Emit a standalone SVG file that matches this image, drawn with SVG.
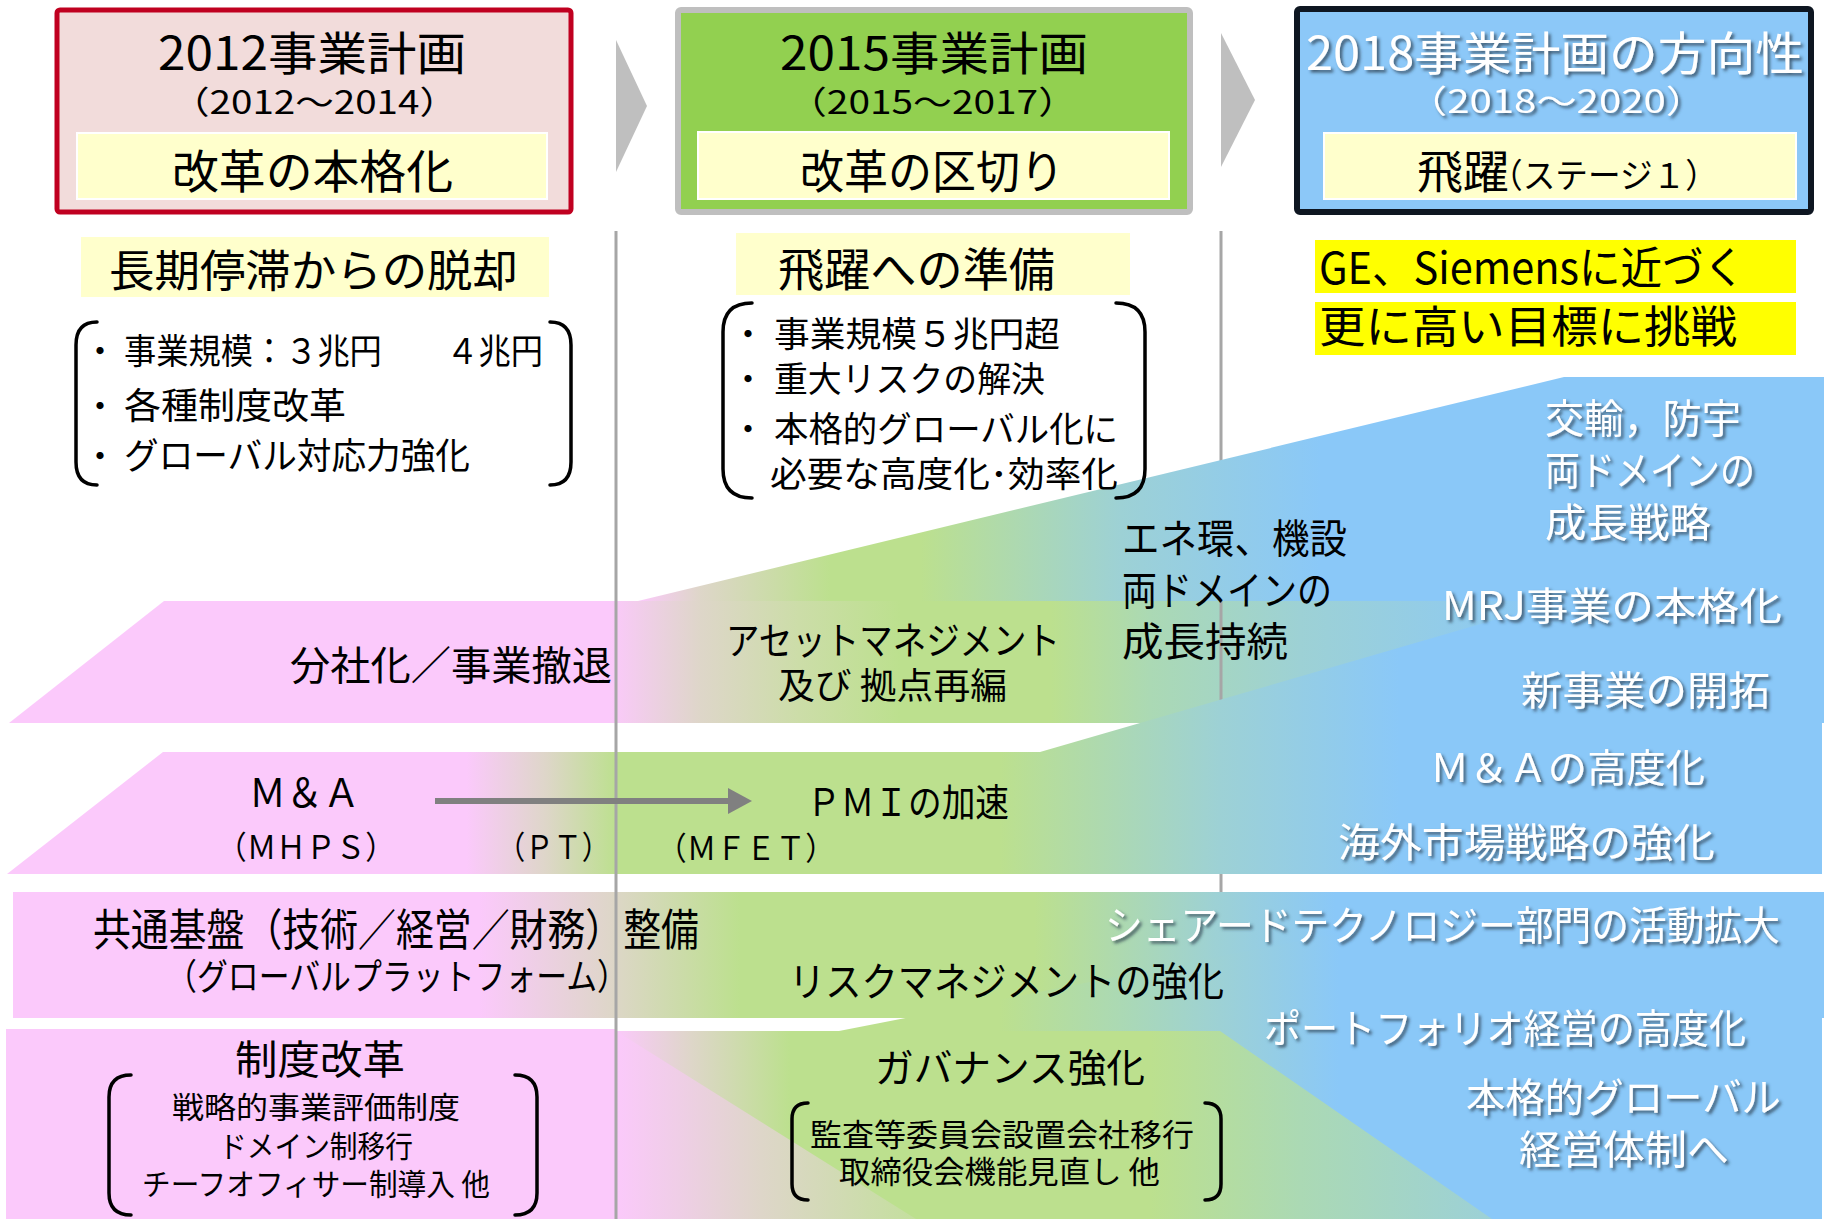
<svg xmlns="http://www.w3.org/2000/svg" width="1837" height="1219" viewBox="0 0 1837 1219">
<defs>
<style>
text { font-family: "Noto Sans CJK JP", "Noto Sans", sans-serif; fill: #000; }
.w { fill: #fff; filter: url(#sh); }
.br { fill: none; stroke: #000; stroke-width: 3.5; stroke-linecap: round; stroke-linejoin: round; }
.div { stroke: #A6A6A6; stroke-width: 3; }
.pale { fill: #FFFFCC; }
.hl { fill: #FFFF00; }
</style>
<filter id="sh" x="-10%" y="-30%" width="130%" height="170%">
<feDropShadow dx="2.5" dy="2.5" stdDeviation="1.5" flood-color="#2a3a4a" flood-opacity="0.75"/>
</filter>
<marker id="ah" markerUnits="userSpaceOnUse" markerWidth="26" markerHeight="28" refX="7" refY="13" orient="auto">
<path d="M0,0 L24,13 L0,26 z" fill="#808080"/>
</marker>
<linearGradient id="gAl" gradientUnits="userSpaceOnUse" x1="0" y1="0" x2="1837" y2="0">
<stop offset="0" stop-color="#FBC9FB"/><stop offset="0.332" stop-color="#FBC9FB"/><stop offset="0.381" stop-color="#DED6C9"/><stop offset="0.435" stop-color="#CCDDA8"/><stop offset="0.49" stop-color="#BCE08E"/><stop offset="0.572" stop-color="#BCE08E"/><stop offset="0.626" stop-color="#ABD9B4"/><stop offset="0.708" stop-color="#9DD1D5"/><stop offset="0.844" stop-color="#8AC8F8"/><stop offset="1" stop-color="#8AC8F8"/>
</linearGradient>
<linearGradient id="gAu" gradientUnits="userSpaceOnUse" x1="0" y1="0" x2="1837" y2="0">
<stop offset="0" stop-color="#FBC9FB"/><stop offset="0.347" stop-color="#FBC9FB"/><stop offset="0.381" stop-color="#DED6C9"/><stop offset="0.452" stop-color="#BCE08E"/><stop offset="0.501" stop-color="#BCE08E"/><stop offset="0.61" stop-color="#9DD1D5"/><stop offset="0.719" stop-color="#8AC8F8"/><stop offset="1" stop-color="#8AC8F8"/>
</linearGradient>
<linearGradient id="gB" gradientUnits="userSpaceOnUse" x1="0" y1="0" x2="1837" y2="0">
<stop offset="0" stop-color="#FBC9FB"/><stop offset="0.254" stop-color="#FBC9FB"/><stop offset="0.297" stop-color="#DED6C9"/><stop offset="0.336" stop-color="#BCE08E"/><stop offset="0.544" stop-color="#BCE08E"/><stop offset="0.664" stop-color="#9DD1D5"/><stop offset="0.762" stop-color="#8AC8F8"/><stop offset="1" stop-color="#8AC8F8"/>
</linearGradient>
<linearGradient id="gC" gradientUnits="userSpaceOnUse" x1="0" y1="0" x2="1837" y2="0">
<stop offset="0" stop-color="#FBC9FB"/><stop offset="0.261" stop-color="#FBC9FB"/><stop offset="0.332" stop-color="#DED6C9"/><stop offset="0.403" stop-color="#BCE08E"/><stop offset="0.563" stop-color="#BCE08E"/><stop offset="0.662" stop-color="#9DD1D5"/><stop offset="0.727" stop-color="#8AC8F8"/><stop offset="1" stop-color="#8AC8F8"/>
</linearGradient>
<linearGradient id="gD" gradientUnits="userSpaceOnUse" x1="0" y1="0" x2="1837" y2="0">
<stop offset="0.335" stop-color="#FBC9FB"/><stop offset="0.376" stop-color="#DED6C9"/><stop offset="0.43" stop-color="#BCE08E"/><stop offset="0.626" stop-color="#BCE08E"/><stop offset="0.708" stop-color="#ABD9B4"/><stop offset="0.806" stop-color="#9DD1D5"/><stop offset="0.992" stop-color="#8AC8F8"/>
</linearGradient>
<linearGradient id="gDp" gradientUnits="userSpaceOnUse" x1="0" y1="0" x2="1837" y2="0">
<stop offset="0.335" stop-color="#FBC9FB"/><stop offset="0.37" stop-color="#EFCEE6"/><stop offset="0.414" stop-color="#DED6C9"/><stop offset="0.499" stop-color="#C4DF9E"/>
</linearGradient>
<linearGradient id="gX" gradientUnits="userSpaceOnUse" x1="0" y1="0" x2="1837" y2="0">
<stop offset="0.457" stop-color="#BCE08E"/><stop offset="0.544" stop-color="#BCE08E"/><stop offset="0.61" stop-color="#ABD9B4"/><stop offset="0.664" stop-color="#9DD1D5"/><stop offset="0.729" stop-color="#8AC8F8"/><stop offset="1" stop-color="#8AC8F8"/>
</linearGradient>
</defs>
<rect width="1837" height="1219" fill="#fff"/>

<g id="bands">
<polygon id="band-a-lower" points="9,723 164,601 1824,601 1824,723" fill="url(#gAl)"/>
<line class="div" x1="1221" y1="231" x2="1221" y2="893"/>
<polygon id="band-a-upper" points="638,601 1564,377 1824,377 1824,601" fill="url(#gAu)"/>
<polygon id="band-b" points="7,874 163,752 1040,752 1560,601 1822,601 1822,874" fill="url(#gB)"/>
<rect id="band-c" x="13" y="892" width="1811" height="126" fill="url(#gC)"/>
<rect id="band-d-left" x="6" y="1029" width="610" height="190" fill="#FBC9FB"/>
<rect id="band-d" x="616" y="1031" width="1206" height="188" fill="url(#gD)"/>
<polygon points="616,1031 916,1219 616,1219" fill="url(#gDp)"/>
<polygon id="band-x" points="839,1031 1545,893 1822,893 1822,1219 1492,1219 1220,1031" fill="url(#gX)"/>
<line class="div" x1="616" y1="231" x2="616" y2="1219"/>
</g>

<g id="plan2012">
<rect x="57" y="10" width="514" height="202" rx="3" fill="#F2DCDB" stroke="#C00020" stroke-width="5"/>
<rect x="77" y="133" width="470" height="66" class="pale" stroke="#fff" stroke-width="2"/>
<text x="158" y="70" font-size="46" textLength="308" lengthAdjust="spacingAndGlyphs">2012事業計画</text>
<text x="171" y="114" font-size="32" textLength="287" lengthAdjust="spacingAndGlyphs">（2012～2014）</text>
<text x="172" y="188" font-size="46" textLength="281" lengthAdjust="spacingAndGlyphs">改革の本格化</text>
</g>

<g id="plan2015">
<rect x="678" y="10" width="512" height="202" rx="3" fill="#92D050" stroke="#BFBFBF" stroke-width="6"/>
<rect x="698" y="132" width="471" height="67" class="pale" stroke="#fff" stroke-width="2"/>
<text x="780" y="70" font-size="46" textLength="308" lengthAdjust="spacingAndGlyphs">2015事業計画</text>
<text x="788" y="114" font-size="32" textLength="289" lengthAdjust="spacingAndGlyphs">（2015～2017）</text>
<text x="800" y="188" font-size="46" textLength="264" lengthAdjust="spacingAndGlyphs">改革の区切り</text>
</g>

<g id="plan2018">
<rect x="1297" y="9" width="514" height="203" rx="3" fill="#8CC8F8" stroke="#0E1621" stroke-width="6"/>
<rect x="1324" y="133" width="472" height="66" class="pale" stroke="#fff" stroke-width="2"/>
<text class="w" x="1306" y="70" font-size="46" textLength="498" lengthAdjust="spacingAndGlyphs">2018事業計画の方向性</text>
<text class="w" x="1407" y="113" font-size="32" textLength="299" lengthAdjust="spacingAndGlyphs">（2018～2020）</text>
<text x="1417" y="188" font-size="46" textLength="92" lengthAdjust="spacingAndGlyphs">飛躍</text>
<text x="1490" y="188" font-size="34" textLength="228" lengthAdjust="spacingAndGlyphs">（ステージ１）</text>
</g>

<g id="goal2012">
<rect x="81" y="237" width="468" height="60" class="pale"/>
<text x="109" y="287" font-size="44" textLength="409" lengthAdjust="spacingAndGlyphs">長期停滞からの脱却</text>
<path class="br" d="M97,322 Q76,322 76,345 L76,462 Q76,485 97,485"/>
<path class="br" d="M550,322 Q571,322 571,345 L571,462 Q571,485 550,485"/>
<text x="83" y="364" font-size="34">・</text>
<text x="124" y="364" font-size="35" textLength="419" lengthAdjust="spacingAndGlyphs">事業規模：３兆円　　４兆円</text>
<text x="83" y="419" font-size="34">・</text>
<text x="124" y="419" font-size="36" textLength="222" lengthAdjust="spacingAndGlyphs">各種制度改革</text>
<text x="83" y="469" font-size="34">・</text>
<text x="124" y="469" font-size="36" textLength="346" lengthAdjust="spacingAndGlyphs">グローバル対応力強化</text>
</g>

<g id="goal2015">
<rect x="736" y="233" width="394" height="62" class="pale"/>
<text x="778" y="286" font-size="46" textLength="277" lengthAdjust="spacingAndGlyphs">飛躍への準備</text>
<path class="br" d="M752,303 Q723,303 723,332 L723,469 Q723,498 752,498"/>
<path class="br" d="M1116,303 Q1145,303 1145,332 L1145,469 Q1145,498 1116,498"/>
<text x="731" y="347" font-size="34">・</text>
<text x="774" y="347" font-size="35" textLength="286" lengthAdjust="spacingAndGlyphs">事業規模５兆円超</text>
<text x="731" y="392" font-size="34">・</text>
<text x="774" y="392" font-size="35" textLength="271" lengthAdjust="spacingAndGlyphs">重大リスクの解決</text>
<text x="731" y="442" font-size="34">・</text>
<text x="774" y="442" font-size="35" textLength="344" lengthAdjust="spacingAndGlyphs">本格的グローバル化に</text>
<text x="770" y="487" font-size="35" textLength="348" lengthAdjust="spacingAndGlyphs">必要な高度化･効率化</text>
</g>

<g id="goal2018">
<rect x="1315" y="240" width="481" height="53" class="hl"/>
<rect x="1315" y="302" width="481" height="53" class="hl"/>
<text x="1319" y="284" font-size="44" textLength="426" lengthAdjust="spacingAndGlyphs">GE、Siemensに近づく</text>
<text x="1319" y="343" font-size="44" textLength="418" lengthAdjust="spacingAndGlyphs">更に高い目標に挑戦</text>
</g>

<g id="row-a">
<text x="290" y="680" font-size="40" textLength="322" lengthAdjust="spacingAndGlyphs">分社化／事業撤退</text>
<text x="726" y="654" font-size="38" textLength="334" lengthAdjust="spacingAndGlyphs">アセットマネジメント</text>
<text x="778" y="699" font-size="36" textLength="229" lengthAdjust="spacingAndGlyphs">及び 拠点再編</text>
<text x="1122" y="553" font-size="40" textLength="225" lengthAdjust="spacingAndGlyphs">エネ環、機設</text>
<text x="1122" y="605" font-size="40" textLength="210" lengthAdjust="spacingAndGlyphs">両ドメインの</text>
<text x="1122" y="656" font-size="40" textLength="166" lengthAdjust="spacingAndGlyphs">成長持続</text>
<text class="w" x="1545" y="433" font-size="40" textLength="196" lengthAdjust="spacingAndGlyphs">交輸，防宇</text>
<text class="w" x="1545" y="485" font-size="40" textLength="210" lengthAdjust="spacingAndGlyphs">両ドメインの</text>
<text class="w" x="1545" y="537" font-size="40" textLength="166" lengthAdjust="spacingAndGlyphs">成長戦略</text>
<text class="w" x="1442" y="620" font-size="39" textLength="340" lengthAdjust="spacingAndGlyphs">MRJ事業の本格化</text>
<text class="w" x="1521" y="705" font-size="40" textLength="249" lengthAdjust="spacingAndGlyphs">新事業の開拓</text>
</g>

<g id="row-b">
<text x="249" y="807" font-size="40" textLength="111" lengthAdjust="spacingAndGlyphs">Ｍ＆Ａ</text>
<text x="217" y="859" font-size="32" textLength="178" lengthAdjust="spacingAndGlyphs">（ＭＨＰＳ）</text>
<text x="497" y="859" font-size="32" textLength="113" lengthAdjust="spacingAndGlyphs">（ＰＴ）</text>
<text x="657" y="860" font-size="32" textLength="178" lengthAdjust="spacingAndGlyphs">（ＭＦＥＴ）</text>
<text x="807" y="816" font-size="38" textLength="202" lengthAdjust="spacingAndGlyphs">ＰＭＩの加速</text>
<text class="w" x="1430" y="782" font-size="39" textLength="275" lengthAdjust="spacingAndGlyphs">Ｍ＆Ａの高度化</text>
<text class="w" x="1338" y="857" font-size="40" textLength="377" lengthAdjust="spacingAndGlyphs">海外市場戦略の強化</text>
</g>

<g id="row-c">
<text x="93" y="946" font-size="44" textLength="606" lengthAdjust="spacingAndGlyphs">共通基盤（技術／経営／財務）整備</text>
<text x="166" y="990" font-size="36" textLength="462" lengthAdjust="spacingAndGlyphs">（グローバルプラットフォーム）</text>
<text x="789" y="996" font-size="40" textLength="435" lengthAdjust="spacingAndGlyphs">リスクマネジメントの強化</text>
<text class="w" x="1105" y="940" font-size="40" textLength="675" lengthAdjust="spacingAndGlyphs">シェアードテクノロジー部門の活動拡大</text>
<text class="w" x="1264" y="1043" font-size="40" textLength="482" lengthAdjust="spacingAndGlyphs">ポートフォリオ経営の高度化</text>
</g>

<g id="row-d">
<text x="235" y="1074" font-size="40" textLength="170" lengthAdjust="spacingAndGlyphs">制度改革</text>
<path class="br" d="M131,1075 Q109,1075 109,1097 L109,1193 Q109,1215 131,1215"/>
<path class="br" d="M515,1075 Q537,1075 537,1097 L537,1193 Q537,1215 515,1215"/>
<text x="172" y="1118" font-size="30" textLength="288" lengthAdjust="spacingAndGlyphs">戦略的事業評価制度</text>
<text x="219" y="1157" font-size="30" textLength="194" lengthAdjust="spacingAndGlyphs">ドメイン制移行</text>
<text x="142" y="1195" font-size="30" textLength="348" lengthAdjust="spacingAndGlyphs">チーフオフィサー制導入 他</text>
<text x="875" y="1082" font-size="39" textLength="270" lengthAdjust="spacingAndGlyphs">ガバナンス強化</text>
<path class="br" d="M808,1103 Q792,1103 792,1119 L792,1184 Q792,1200 808,1200"/>
<path class="br" d="M1205,1103 Q1221,1103 1221,1119 L1221,1184 Q1221,1200 1205,1200"/>
<text x="810" y="1146" font-size="31" textLength="384" lengthAdjust="spacingAndGlyphs">監査等委員会設置会社移行</text>
<text x="839" y="1183" font-size="31" textLength="321" lengthAdjust="spacingAndGlyphs">取締役会機能見直し 他</text>
<text class="w" x="1466" y="1112" font-size="40" textLength="315" lengthAdjust="spacingAndGlyphs">本格的グローバル</text>
<text class="w" x="1519" y="1164" font-size="40" textLength="210" lengthAdjust="spacingAndGlyphs">経営体制へ</text>
</g>

<g id="connectors">
<polygon points="616,40 647,106 616,172" fill="#BFBFBF"/>
<polygon points="1221,33 1255,100 1221,167" fill="#BFBFBF"/>
<line x1="435" y1="801" x2="735" y2="801" stroke="#808080" stroke-width="6" marker-end="url(#ah)"/>
</g>
</svg>
